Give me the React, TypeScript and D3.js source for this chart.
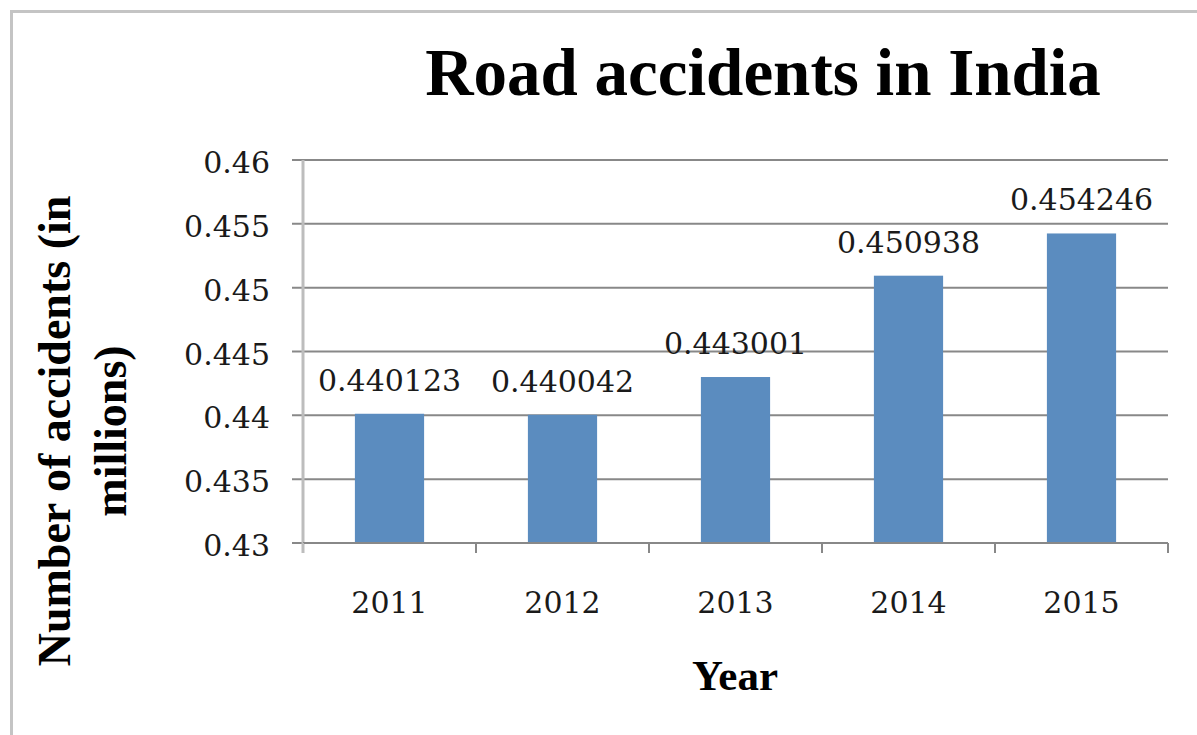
import React from "react";
import * as d3 from "d3";

// chart data
const years = ["2011", "2012", "2013", "2014", "2015"];
const accidents = [0.440123, 0.440042, 0.443001, 0.450938, 0.454246];
const yTicks = [0.43, 0.435, 0.44, 0.445, 0.45, 0.455, 0.46];
const yTickLabels = ["0.43", "0.435", "0.44", "0.445", "0.45", "0.455", "0.46"];

const W = 1197;
const H = 735;
const numFont = "'DejaVu Serif', serif";
const titleFont = "'Liberation Serif', serif";

const App = () => {
  const xScale = d3
    .scaleBand()
    .domain(years)
    .range([303, 1168])
    .paddingInner(0.6)
    .paddingOuter(0.3);
  const yScale = d3.scaleLinear().domain([0.43, 0.46]).range([543, 160]);

  const step = xScale.step();
  const x0 = xScale.range()[0];
  const x1 = xScale.range()[1];

  return (
    <svg
      width={W}
      height={H}
      style={{ position: "absolute", left: 0, top: 0, background: "#fff" }}
    >
      {/* outer frame */}
      <path d={`M11.5,${H} V11.5 H${W}`} fill="none" stroke="#c4c4c4" strokeWidth={3} />

      {/* title */}
      <text
        x={763}
        y={95}
        textAnchor="middle"
        fontFamily={titleFont}
        fontWeight="bold"
        fontSize={67}
        fill="#000"
      >
        Road accidents in India
      </text>

      {/* gridlines + y ticks */}
      {yTicks.map((t, i) => (
        <g key={t}>
          <line
            x1={292}
            x2={x1}
            y1={yScale(t)}
            y2={yScale(t)}
            stroke="#888"
            strokeWidth={2}
          />
          <text
            x={270}
            y={yScale(t) + 13}
            textAnchor="end"
            fontFamily={numFont}
            fontSize={30}
            fill="#1a1a1a"
          >
            {yTickLabels[i]}
          </text>
        </g>
      ))}

      {/* y axis line */}
      <line x1={x0} x2={x0} y1={yScale(0.46)} y2={553} stroke="#bdbdbd" strokeWidth={3} />

      {/* bars */}
      {years.map((yr, i) => (
        <rect
          key={yr}
          x={xScale(yr)}
          y={yScale(accidents[i])}
          width={xScale.bandwidth()}
          height={yScale(0.43) - yScale(accidents[i])}
          fill="#5b8cbf"
        />
      ))}

      {/* x axis */}
      <line x1={x0} x2={x1} y1={543} y2={543} stroke="#888" strokeWidth={2} />
      {d3.range(years.length + 1).map((k) => (
        <line
          key={k}
          x1={x0 + k * step}
          x2={x0 + k * step}
          y1={543}
          y2={553}
          stroke={k === 0 ? "#bdbdbd" : "#888"}
          strokeWidth={2}
        />
      ))}
      {years.map((yr) => (
        <text
          key={yr}
          x={(xScale(yr) as number) + xScale.bandwidth() / 2}
          y={613}
          textAnchor="middle"
          fontFamily={numFont}
          fontSize={30}
          fill="#1a1a1a"
        >
          {yr}
        </text>
      ))}

      {/* data labels */}
      {years.map((yr, i) => (
        <text
          key={yr}
          x={(xScale(yr) as number) + xScale.bandwidth() / 2}
          y={yScale(accidents[i]) - 23}
          textAnchor="middle"
          fontFamily={numFont}
          fontSize={30}
          fill="#1a1a1a"
        >
          {String(accidents[i])}
        </text>
      ))}

      {/* axis titles */}
      <text
        x={735}
        y={690}
        textAnchor="middle"
        fontFamily={titleFont}
        fontWeight="bold"
        fontSize={43}
        fill="#000"
      >
        Year
      </text>
      <g transform="translate(70,431) rotate(-90)">
        <text
          x={0}
          y={0}
          textAnchor="middle"
          fontFamily={titleFont}
          fontWeight="bold"
          fontSize={46}
          fill="#000"
        >
          Number of accidents (in
        </text>
        <text
          x={0}
          y={56}
          textAnchor="middle"
          fontFamily={titleFont}
          fontWeight="bold"
          fontSize={46}
          fill="#000"
        >
          millions)
        </text>
      </g>
    </svg>
  );
};

export default App;
